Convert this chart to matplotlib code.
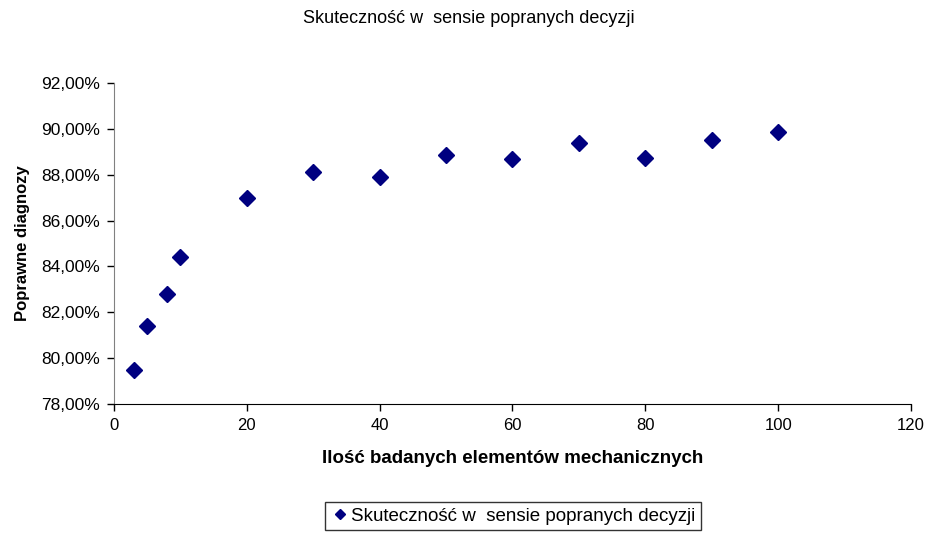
import matplotlib
matplotlib.use('Agg')
import matplotlib.pyplot as plt
from matplotlib.ticker import FuncFormatter

plt.rcParams['font.family'] = ['Liberation Sans', 'DejaVu Sans']

elementy = [3, 5, 8, 10, 20, 30, 40, 50, 60, 70, 80, 90, 100]
skutecznosc = [79.48, 81.42, 82.79, 84.41, 87.0, 88.11, 87.9, 88.88, 88.67, 89.37, 88.74, 89.52, 89.87]
etykieta = 'Skuteczność w  sensie popranych decyzji'

fig = plt.figure(figsize=(9.28, 5.33), dpi=100)
ax = fig.add_axes([0.1228, 0.242, 0.8589, 0.6023])

ax.plot(elementy, skutecznosc, linestyle='none', marker='D', markersize=8,
        color='#000080', label=etykieta)

ax.set_xlim(0, 120)
ax.set_ylim(78, 92)
ax.set_xticks(range(0, 121, 20))
ax.set_yticks(range(78, 93, 2))
ax.yaxis.set_major_formatter(FuncFormatter(lambda v, p: ('%.2f%%' % v).replace('.', ',')))

for s in ['top', 'right']:
    ax.spines[s].set_visible(False)
ax.spines['left'].set_color('#808080')
ax.spines['bottom'].set_color('black')
ax.tick_params(direction='out', length=5, width=1, pad=5)
ax.tick_params(axis='y', labelsize=12.5)
ax.tick_params(axis='x', labelsize=12)

ax.set_xlabel('Ilość badanych elementów mechanicznych', fontsize=13.5, fontweight='bold', labelpad=12)
ax.set_ylabel('Poprawne diagnozy', fontsize=12, fontweight='bold', labelpad=8)
fig.text(0.505, 0.965, etykieta, ha='center', va='center', fontsize=13)

leg = ax.legend(loc='center', bbox_to_anchor=(0.553, 0.032), bbox_transform=fig.transFigure,
                frameon=True, fancybox=False, fontsize=13.5, handletextpad=0.1,
                handlelength=1.0, markerscale=0.7, borderpad=0.3)
leg.get_frame().set_edgecolor('black')
leg.get_frame().set_linewidth(1)

fig.savefig('out.png', dpi=100)
